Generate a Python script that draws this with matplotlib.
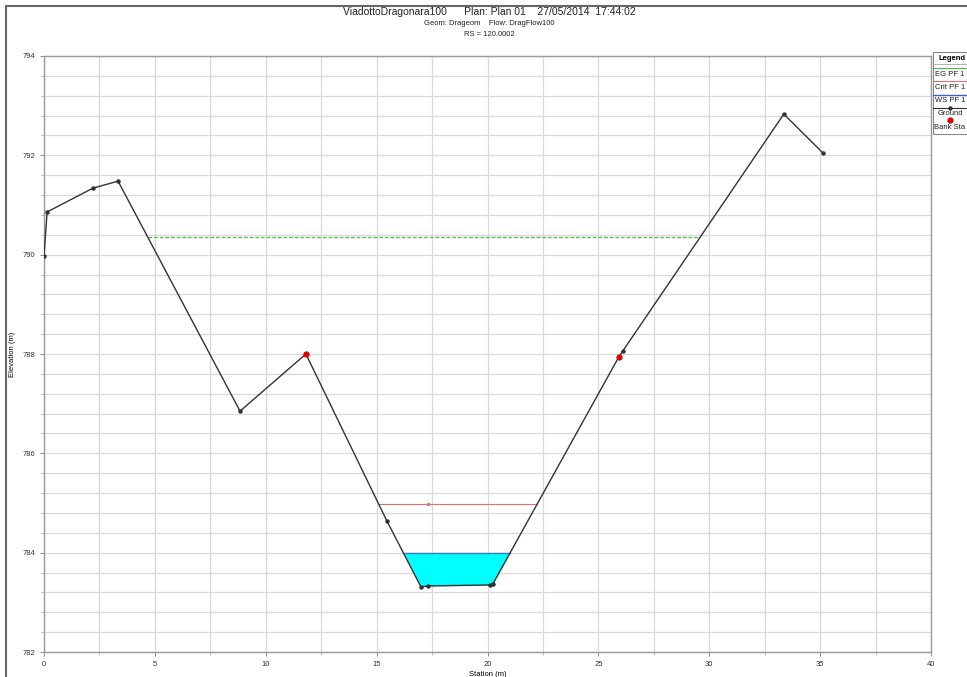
import matplotlib.pyplot as plt
import numpy as np
from matplotlib.lines import Line2D
from matplotlib.patches import Rectangle

plt.rcParams['font.family'] = ['Liberation Sans', 'DejaVu Sans']

# ground profile (station, elevation)
station = [0.0, 0.14, 2.21, 3.34, 8.84, 11.81, 15.46, 17.0, 17.3, 20.1, 20.24, 25.92, 26.1, 33.36, 35.12]
elev = [789.97, 790.86, 791.34, 791.48, 786.85, 788.0, 784.64, 783.31, 783.33, 783.35, 783.37, 787.94, 788.06, 792.83, 792.05]
bank_sta = [11.81, 25.92]
bank_elev = [788.0, 787.94]

eg_pf1 = 790.36
crit_pf1 = 784.98
ws_pf1 = 784.0

title = "ViadottoDragonara100      Plan: Plan 01    27/05/2014  17:44:02"
subtitle = "Geom: Drageom    Flow: DragFlow100"
rs_label = "RS = 120.0002"
legend_labels = ["EG PF 1", "Crit PF 1", "WS PF 1", "Ground", "Bank Sta"]

st = np.array(station)
el = np.array(elev)


def crossings(level):
    # ground crossings either side of the channel low point
    lo = np.argmin(el)
    left = np.interp(level, el[:lo + 1][::-1], st[:lo + 1][::-1])
    right = np.interp(level, el[lo:], st[lo:])
    return left, right


def crossings_eg(level):
    # EG line hits the slope after the first peak and the right bank slope
    left = np.interp(level, el[3:5][::-1], st[3:5][::-1])
    right = np.interp(level, el[12:14], st[12:14])
    return left, right


fig = plt.figure(figsize=(9.67, 6.77), dpi=100)
ax = fig.add_axes([0.0455, 0.0369, 0.9173, 0.8804])

gc = "#d9d9d9"
ax.set_xlim(0, 40)
ax.set_ylim(782, 794)
ax.set_xticks(np.arange(0, 41, 5))
ax.set_xticks(np.arange(0, 41, 2.5), minor=True)
ax.set_yticks(np.arange(782, 795, 2))
ax.set_yticks(np.arange(782, 794.01, 0.4), minor=True)
ax.grid(True, which="both", color=gc, linewidth=0.9)
ax.set_axisbelow(True)
for s in ax.spines.values():
    s.set_color("#999999")
    s.set_linewidth(1.0)
ax.tick_params(which="major", labelsize=5.5, colors="#777777", length=3, width=0.6, labelcolor="#333333")
ax.tick_params(which="minor", length=2, width=0.5, colors="#999999")

# water fill
xl, xr = crossings(ws_pf1)
mask = (st > xl) & (st < xr)
fx = np.concatenate([[xl], st[mask], [xr]])
fy = np.concatenate([[ws_pf1], el[mask], [ws_pf1]])
ax.fill_between(fx, fy, ws_pf1, color="#00ffff", zorder=2, linewidth=0)
ax.plot([xl, xr], [ws_pf1, ws_pf1], color="#3a7bd5", linewidth=1.0, zorder=3)

# crit line
cl, cr = crossings(crit_pf1)
ax.plot([cl, cr], [crit_pf1, crit_pf1], color="#e07070", linewidth=0.8, zorder=3)
ax.plot([17.3], [crit_pf1], marker="o", color="#e07070", markersize=1.5, zorder=3)

# EG line
el_, er_ = crossings_eg(eg_pf1)
ax.plot([el_, er_], [eg_pf1, eg_pf1], color="#4cbb4c", linewidth=0.9, linestyle=(0, (3, 1.5)), zorder=3)

# ground
ax.plot(station, elev, color="#333333", linewidth=1.0, marker="o", markersize=2.2, zorder=4)
ax.plot(bank_sta, bank_elev, linestyle="none", marker="o", color="#e00000", markersize=3.5, zorder=5)

ax.set_xlabel("Station (m)", fontsize=5.5, labelpad=2)
ax.set_ylabel("Elevation (m)", fontsize=5.5)
ax.yaxis.set_label_coords(-0.032, 0.5)

fig.text(0.506, 0.982, title, ha="center", va="center", fontsize=7.5, color="#222222")
fig.text(0.506, 0.965, subtitle, ha="center", va="center", fontsize=5.5, color="#222222")
fig.text(0.506, 0.949, rs_label, ha="center", va="center", fontsize=5.5, color="#222222")

# outer frame
fig.patches.append(Rectangle((6 / 967, -0.1), 1.2, 1.1 - 6 / 677, transform=fig.transFigure,
                             fill=False, edgecolor="#666666", linewidth=1.5))

# legend box, drawn as in the HEC-RAS window (line above each label)
W, H = 967.0, 677.0
lx0 = 933
fig.patches.append(Rectangle((lx0 / W, 1 - 134 / H), 0.2, 82 / H, transform=fig.transFigure,
                             facecolor="white", edgecolor="#888888", linewidth=0.8))
fig.text(952 / W, 1 - 59 / H, "Legend", ha="center", va="center", fontsize=5.5, fontweight="bold")
fig.add_artist(Line2D([lx0 / W, 1], [1 - 64 / H] * 2, transform=fig.transFigure, color="#aaaaaa", linewidth=0.6))
entry_styles = [
    dict(color="#4cbb4c", linewidth=0.8),
    dict(color="#e07070", linewidth=0.8),
    dict(color="#4060c0", linewidth=1.0),
    dict(color="#333333", linewidth=0.8),
    dict(color="#e00000", linewidth=0, marker="o", markersize=3.5),
]
for i, (lab, sty) in enumerate(zip(legend_labels, entry_styles)):
    yl = 68 + i * 13.3
    if sty.get("linewidth", 0) > 0:
        fig.add_artist(Line2D([lx0 / W, 1], [1 - yl / H] * 2, transform=fig.transFigure, **sty))
    if lab == "Ground":
        fig.add_artist(Line2D([950 / W], [1 - yl / H], transform=fig.transFigure,
                              marker="o", markersize=2.2, color="#333333"))
    if lab == "Bank Sta":
        fig.add_artist(Line2D([950 / W], [1 - (yl - 1) / H], transform=fig.transFigure, **sty))
    fig.text(950 / W, 1 - (yl + 6) / H, lab, ha="center", va="center", fontsize=5.5, color="#222222")

fig.savefig("out.png", dpi=100)
